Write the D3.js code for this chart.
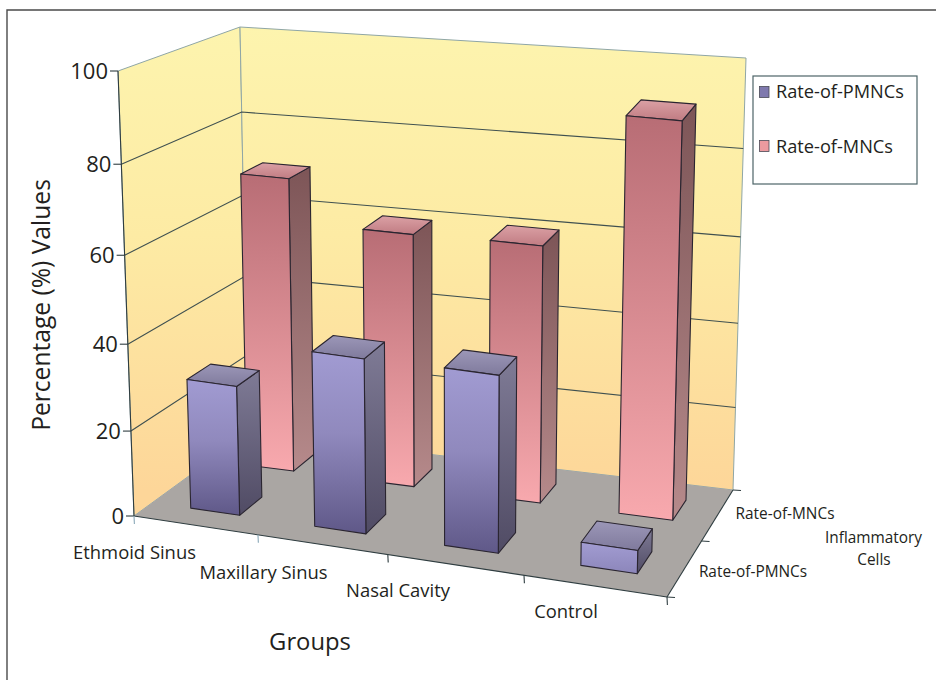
<!DOCTYPE html>
<html>
<head>
<meta charset="utf-8">
<script src="https://cdn.jsdelivr.net/npm/d3@7/dist/d3.min.js"></script>
<style>
html,body{margin:0;padding:0;background:#fff;overflow:hidden;}
text{font-family:"Open Sans","Noto Sans",sans-serif;fill:#231f20;}
</style>
</head>
<body>
<svg id="chart" width="936" height="680"></svg>
<script>
const groups = ["Ethmoid Sinus","Maxillary Sinus","Nasal Cavity","Control"];
const seriesNames = ["Rate-of-PMNCs","Rate-of-MNCs"];
const pmncValues = [30.5,41,41.5,5.5];
const mncValues = [70.5,60.5,61,92];
const valueTicks = [0,20,40,60,80,100];

// Corners of the 3D plot box on the page: front-left, front-right, back-right, back-left.
const floorCorners = [[134,516],[667,597],[733,490],[248,433]];
const ceilCorners  = [[118,71],[677,148],[746,58],[240,27]];

// Perspective easing along each box axis.
const ease = k => t => t/(t+k*(1-t));
const easeX = ease(1.10), easeZ = ease(0.91), easeY = ease(1.06);

function bilerp(q,u,v){
  const f=i=>(1-v)*((1-u)*q[0][i]+u*q[1][i])+v*((1-u)*q[3][i]+u*q[2][i]);
  return [f(0),f(1)];
}
const yScale = d3.scaleLinear().domain([0,100]).range([0,1]);
const xBand = d3.scaleBand().domain(groups).range([0,1]).paddingInner(0.6).paddingOuter(0.3).align(0.53);
const zBand = d3.scaleBand().domain(seriesNames).range([0,1]).paddingInner(0.6).paddingOuter(0.3);

function project(u,v,val){
  const U=easeX(u), V=easeZ(v), t=easeY(yScale(val));
  const a=bilerp(floorCorners,U,V), b=bilerp(ceilCorners,U,V);
  return [a[0]+(b[0]-a[0])*t, a[1]+(b[1]-a[1])*t];
}
const pathOf = pts => d3.line()(pts)+"Z";

const svg = d3.select("#chart");
const defs = svg.append("defs");
function grad(id,stops,y1,y2){
  const g=defs.append("linearGradient").attr("id",id).attr("x1",0).attr("x2",0);
  if(y1==null) g.attr("y1",0).attr("y2",1);
  else g.attr("gradientUnits","userSpaceOnUse").attr("y1",y1).attr("y2",y2);
  stops.forEach(([o,c])=>g.append("stop").attr("offset",o).attr("stop-color",c));
}
grad("wall",[[0,"#fdf4ae"],[0.45,"#fdeba4"],[1,"#fdd699"]],27,490);
grad("pFront",[[0,"#a19bd2"],[0.45,"#9089bd"],[1,"#5f5888"]]);
grad("pFrontLow",[[0,"#a29cd2"],[1,"#8c86ba"]]);
grad("pSide",[[0,"#7f7b96"],[1,"#504b64"]]);
grad("pTop",[[0,"#9c97b8"],[1,"#7f7a9c"]]);
grad("mFront",[[0,"#b86d75"],[1,"#f8a9ae"]]);
grad("mSide",[[0,"#7d5557"],[1,"#b68a8b"]]);
grad("mTop",[[0,"#dba1a5"],[1,"#c07b82"]]);

// page frame: top and left rules only
svg.append("path").attr("d","M7,680V10H936").attr("fill","none").attr("stroke","#4a4a4a").attr("stroke-width",1.4);

// walls
const wallStroke="#8fa6a6";
svg.append("path").attr("d",pathOf([project(0,0,0),project(0,1,0),project(0,1,100),project(0,0,100)]))
  .attr("fill","url(#wall)").attr("stroke",wallStroke);
svg.append("path").attr("d",pathOf([project(0,1,0),project(1,1,0),project(1,1,100),project(0,1,100)]))
  .attr("fill","url(#wall)").attr("stroke",wallStroke);

// gridlines on both walls
valueTicks.filter(v=>v>0&&v<100).forEach(v=>{
  svg.append("path").attr("fill","none").attr("stroke","#3f5050").attr("stroke-width",1.1)
    .attr("d",d3.line()([project(0,0,v),project(0,1,v),project(1,1,v)]));
});

// floor
svg.append("path").attr("d",pathOf([project(0,0,0),project(1,0,0),project(1,1,0),project(0,1,0)]))
  .attr("fill","#aaa6a3");

// axis lines
const ln=(a,b,c="#2f3d40")=>svg.append("line").attr("x1",a[0]).attr("y1",a[1]).attr("x2",b[0]).attr("y2",b[1])
  .attr("stroke",c).attr("stroke-width",1.1);
ln(project(0,0,0),project(0,0,100));
ln(project(0,0,0),project(1,0,0));
ln(project(1,0,0),project(1,1,0));

// value axis ticks and labels
valueTicks.forEach(v=>{
  const p=project(0,0,v);
  ln([p[0]-8,p[1]],p);
  svg.append("text").attr("x",p[0]-10).attr("y",p[1]).attr("dy","0.36em")
    .attr("text-anchor","end").attr("font-size",22).text(v);
});

// category ticks along the front edge
d3.range(0,5).forEach(i=>{
  const p=project(i/4,0,0);
  ln(p,[p[0]+0.4,p[1]+8],i<2?"#8aa8b8":"#2f3d40");
});
// series ticks along the right edge
d3.range(0,3).forEach(i=>{
  const p=project(1,i/2,0);
  ln(p,[p[0]+8,p[1]+0.5]);
});

// bars: back row first so the front row overlaps it
function bar(group,series,val,prefix,frontFill){
  const u0=xBand(group),u1=u0+xBand.bandwidth();
  const v0=zBand(series),v1=v0+zBand.bandwidth();
  const g=svg.append("g").attr("stroke","#2a2530").attr("stroke-width",1.1).attr("stroke-linejoin","round");
  g.append("path").attr("d",pathOf([project(u1,v0,0),project(u1,v1,0),project(u1,v1,val),project(u1,v0,val)])).attr("fill",`url(#${prefix}Side)`);
  g.append("path").attr("d",pathOf([project(u0,v0,val),project(u1,v0,val),project(u1,v1,val),project(u0,v1,val)])).attr("fill",`url(#${prefix}Top)`);
  g.append("path").attr("d",pathOf([project(u0,v0,0),project(u1,v0,0),project(u1,v0,val),project(u0,v0,val)])).attr("fill",`url(#${frontFill})`);
}
groups.forEach((g,i)=>bar(g,seriesNames[1],mncValues[i],"m","mFront"));
groups.forEach((g,i)=>bar(g,seriesNames[0],pmncValues[i],"p",pmncValues[i]<10?"pFrontLow":"pFront"));

// category labels
const catLabelX=[134.5,263.5,398,566], catLabelY=[559,579,597,618];
groups.forEach((g,i)=>{
  svg.append("text").attr("x",catLabelX[i]).attr("y",catLabelY[i]).attr("font-size",18.4)
    .attr("text-anchor","middle").text(g);
});
// series labels beside the depth axis
[[seriesNames[0],753,577],[seriesNames[1],785,519]].forEach(([t,x,y])=>{
  svg.append("text").attr("x",x).attr("y",y).attr("font-size",15.4).attr("text-anchor","middle").text(t);
});
svg.append("text").attr("x",873.5).attr("y",543).attr("font-size",15.4).attr("text-anchor","middle").text("Inflammatory");
svg.append("text").attr("x",874).attr("y",565).attr("font-size",15.4).attr("text-anchor","middle").text("Cells");

// axis titles
svg.append("text").attr("x",310).attr("y",650).attr("font-size",23.8).attr("text-anchor","middle").text("Groups");
svg.append("text").attr("transform","translate(50,305) rotate(-90)").attr("font-size",24.6).attr("text-anchor","middle").text("Percentage (%) Values");

// legend
svg.append("rect").attr("x",753).attr("y",76).attr("width",164).attr("height",108)
  .attr("fill","#fff").attr("stroke","#4d6468").attr("stroke-width",1.2);
seriesNames.forEach((s,i)=>{
  const cy=[92,146][i];
  svg.append("rect").attr("x",759.5).attr("y",cy-5.5).attr("width",9.5).attr("height",11)
    .attr("fill",i?"#ec9a9f":"#7f79ae").attr("stroke","#4a4a55").attr("stroke-width",0.8);
  svg.append("text").attr("x",776).attr("y",[98,153][i]).attr("font-size",18.2).text(s);
});
</script>
</body>
</html>
